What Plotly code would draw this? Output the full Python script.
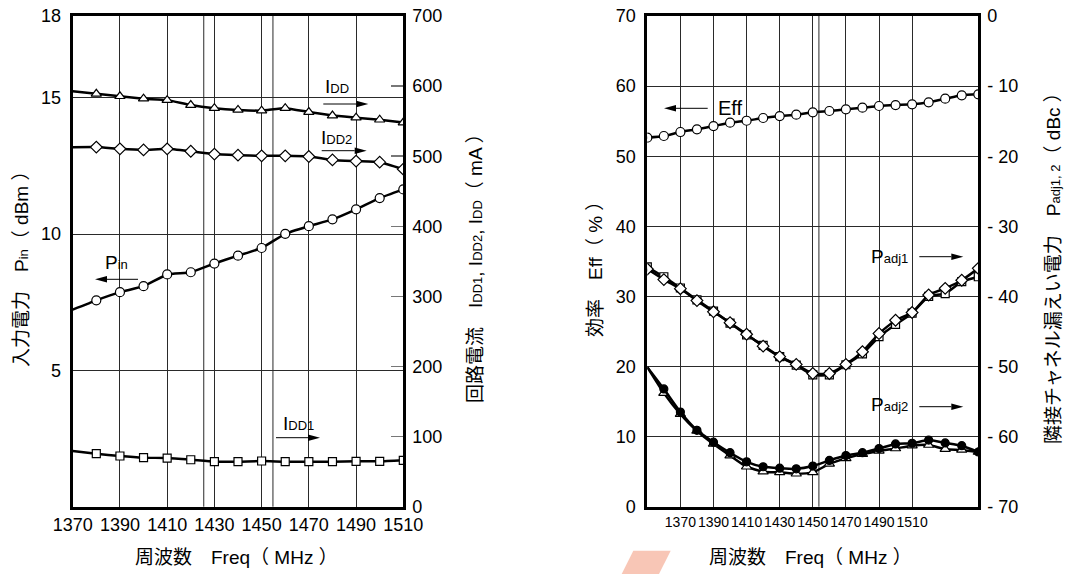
import plotly.graph_objects as go

# ---------------- data ----------------
freq_l = [1370, 1380, 1390, 1400, 1410, 1420, 1430, 1440, 1450, 1460, 1470, 1480, 1490, 1500, 1510]
pin = [7.23, 7.57, 7.87, 8.09, 8.52, 8.60, 8.92, 9.21, 9.49, 10.01, 10.29, 10.54, 10.91, 11.32, 11.64]
idd = [592.7, 589, 585.5, 582, 580, 573, 568.5, 566, 565, 568.5, 563, 558, 555, 552, 548]
idd2 = [512.8, 513, 510.5, 509, 510.5, 507, 503, 501.5, 500.5, 500.5, 499.5, 494.7, 493, 491.5, 481.5]
idd1 = [79.4, 75.6, 72.3, 69.9, 69.4, 67, 64.2, 64.2, 65.2, 64.2, 64.2, 64.2, 64.7, 64.7, 66.2]

freq_r = [1350, 1360, 1370, 1380, 1390, 1400, 1410, 1420, 1430, 1440, 1450,
          1460, 1470, 1480, 1490, 1500, 1510, 1520, 1530, 1540, 1550]
eff = [52.64, 52.88, 53.45, 53.84, 54.3, 54.78, 55.06, 55.45, 55.73, 55.92, 56.26,
       56.45, 56.69, 56.92, 57.16, 57.3, 57.4, 57.69, 58.2, 58.69, 58.83]
padj1_dia = [-36.1, -37.6, -38.9, -40.6, -42.2, -43.75, -45.4, -47.1, -48.6, -49.7, -51.0,
             -51.0, -49.7, -47.9, -45.3, -43.4, -42.3, -39.8, -38.85, -37.7, -36.0]
padj1_sq = [-35.8, -37.2, -38.8, -40.5, -42.1, -43.8, -45.5, -47.0, -48.6, -49.8, -51.2,
            -51.2, -49.75, -48.2, -45.75, -44.0, -42.4, -40.0, -39.6, -37.9, -37.2]
padj2_dot = [-50.1, -53.2, -56.5, -59.1, -60.8, -62.3, -63.6, -64.3, -64.5, -64.6, -64.2,
             -63.4, -62.7, -62.3, -61.7, -61.05, -60.95, -60.5, -60.9, -61.3, -62.2]
padj2_tri = [-50.1, -53.8, -56.8, -59.2, -61.05, -62.7, -64.3, -65.0, -65.1, -65.3, -65.1,
             -63.9, -63.1, -62.5, -62.05, -61.7, -61.3, -61.2, -61.8, -61.9, -62.2]

xticks_l = [1370, 1390, 1410, 1430, 1450, 1470, 1490, 1510]
xticks_r = [1370, 1390, 1410, 1430, 1450, 1470, 1490, 1510]
yticks_pin = [5, 10, 15, 18]
yticks_ma = [0, 100, 200, 300, 400, 500, 600, 700]
yticks_eff = [0, 10, 20, 30, 40, 50, 60, 70]
yticks_dbc = [0, -10, -20, -30, -40, -50, -60, -70]
yticktext_dbc = ["0", "- 10", "- 20", "- 30", "- 40", "- 50", "- 60", "- 70"]
extra_lines_l = [1425.5, 1454.8]
extra_lines_r = [1453.7]

# ---------------- layout helpers ----------------
W, H = 1066, 574
def px(x):
    return x / W
def py(y):
    return 1 - y / H

FONT = "Liberation Sans, Arial, sans-serif"
TFONT = "Liberation Sans, Arial, Noto Sans CJK JP, sans-serif"
GRID = "#2a2a2a"
LW = 2.5

def sm(s, size=13):
    return f'<span style="font-size:{size}px">{s}</span>'

def msizes(n, size, skip_first=False):
    return [0 if (skip_first and i == 0) else size for i in range(n)]

fig = go.Figure()

def add(x, y, xa, ya, symbol, size, fill="white", skip_first=False, smoothing=0.4):
    fig.add_trace(go.Scatter(x=x, y=y, xaxis=xa, yaxis=ya, mode="lines+markers",
                             line=dict(color="black", width=LW, shape="spline", smoothing=smoothing),
                             marker=dict(symbol=symbol, size=msizes(len(x), size, skip_first), color=fill,
                                         opacity=1, line=dict(color="black", width=1.2)),
                             hoverinfo="skip"))

# left chart
add(freq_l, pin, "x", "y", "circle", 9, skip_first=True)
add(freq_l, idd, "x", "y2", "triangle-up", 9, skip_first=True)
add(freq_l, idd2, "x", "y2", "diamond", 9, skip_first=True)
add(freq_l, idd1, "x", "y2", "square", 8, skip_first=True)

# right chart
add(freq_r, eff, "x2", "y3", "circle", 9, smoothing=0.5)
add(freq_r, padj1_sq, "x2", "y4", "square", 8, smoothing=0.5)
add(freq_r, padj1_dia, "x2", "y4", "diamond", 9, smoothing=0.5)
add(freq_r, padj2_tri, "x2", "y4", "triangle-up", 9, skip_first=True, smoothing=0.5)
add(freq_r, padj2_dot, "x2", "y4", "circle", 8, fill="black", skip_first=True, smoothing=0.5)

dom_xl = [px(72.7), px(403.3)]
dom_xr = [px(647.3), px(978.3)]
dom_y = [py(506.7), py(16)]

tickfont = dict(family=FONT, size=18, color="black")
common_x = dict(showgrid=True, gridcolor=GRID, gridwidth=1, showline=True, linecolor="black",
                linewidth=3, mirror=True, ticks="", zeroline=False, tickfont=tickfont,
                automargin=False, tickangle=0)
common_y = dict(showgrid=True, gridcolor=GRID, gridwidth=1, showline=True, linecolor="black",
                linewidth=3, mirror=True, ticks="", zeroline=False, tickfont=tickfont,
                ticklabelstandoff=5, automargin=False)

fig.update_layout(
    width=W, height=H, margin=dict(l=0, r=0, t=0, b=0, autoexpand=False),
    paper_bgcolor="white", plot_bgcolor="white", showlegend=False,
    xaxis=dict(domain=dom_xl, range=[1370, 1510], tickvals=xticks_l, anchor="y", **common_x),
    yaxis=dict(domain=dom_y, range=[0, 18], tickvals=yticks_pin, anchor="x", **common_y),
    yaxis2=dict(overlaying="y", side="right", anchor="x", range=[0, 700], tickvals=yticks_ma,
                showgrid=False, zeroline=False, showline=False, ticks="inside", ticklen=12,
                tickcolor="#777", tickwidth=1.5, tickfont=tickfont, ticklabelstandoff=8,
                automargin=False),
    xaxis2=dict(domain=dom_xr, range=[1350, 1550], tickvals=xticks_r, anchor="y3",
                **{**common_x, "tickfont": dict(family=FONT, size=14, color="black")}),
    yaxis3=dict(domain=dom_y, range=[0, 70], tickvals=yticks_eff, anchor="x2", **common_y),
    yaxis4=dict(overlaying="y3", side="right", anchor="x2", range=[-70, 0], tickvals=yticks_dbc,
                ticktext=yticktext_dbc, showgrid=False, zeroline=False, showline=False, ticks="",
                tickfont=tickfont, ticklabelstandoff=8, automargin=False),
)

shapes = []
for v in extra_lines_l:
    shapes.append(dict(type="line", xref="x", yref="y domain", x0=v, x1=v, y0=0, y1=1,
                       line=dict(color=GRID, width=1), layer="below"))
for v in extra_lines_r:
    shapes.append(dict(type="line", xref="x2", yref="y3 domain", x0=v, x1=v, y0=0, y1=1,
                       line=dict(color=GRID, width=1), layer="below"))
# salmon decorative parallelogram at bottom
shapes.append(dict(type="path", xref="paper", yref="paper",
                   path=f"M {px(633.3)},{py(550.7)} L {px(670.7)},{py(550.7)} L {px(659)},{py(574)} L {px(621.7)},{py(574)} Z",
                   fillcolor="#F8C6B6", line=dict(width=0)))

def arrow(x_tail, x_head, y, head_len=12, half_h=3.2):
    d = 1 if x_head > x_tail else -1
    base = x_head - d * head_len
    shapes.append(dict(type="line", xref="paper", yref="paper",
                       x0=px(x_tail), x1=px(base), y0=py(y), y1=py(y),
                       line=dict(color="black", width=1)))
    shapes.append(dict(type="path", xref="paper", yref="paper",
                       path=f"M {px(x_head)},{py(y)} L {px(base)},{py(y - half_h)} L {px(base)},{py(y + half_h)} Z",
                       fillcolor="black", line=dict(width=0)))

ann = []
def title(text, x, y, angle=0, size=19):
    ann.append(dict(text=text, x=px(x), y=py(y), xref="paper", yref="paper", showarrow=False,
                    textangle=angle, xanchor="center", yanchor="middle",
                    font=dict(family=TFONT, size=size, color="black")))

def label(text, x, y, size=19):
    ann.append(dict(text=text, x=px(x), y=py(y), xref="paper", yref="paper", showarrow=False,
                    xanchor="center", yanchor="middle", font=dict(family=FONT, size=size, color="black")))

title(f"入力電力　P{sm('in')}（ dBm ）", 21, 265, -90)
title(f"回路電流　I{sm('DD1')}, I{sm('DD2')}, I{sm('DD')}（ mA ）", 475, 264, -90)
title("周波数　Freq（ MHz ）", 236, 557, 0)
title("効率　Eff（ % ）", 595, 265, -90)
title(f"隣接チャネル漏えい電力　P{sm('adj1, 2')}（ dBc ）", 1053, 264, -90)
title("周波数　Freq（ MHz ）", 810, 557, 0)

label(f"I{sm('DD')}", 337, 86)
arrow(323.3, 368.3, 104)
label(f"I{sm('DD2')}", 336, 137)
arrow(321.7, 366.7, 150.7)
label(f"P{sm('in')}", 116, 262)
arrow(138, 95, 279.3)
label(f"I{sm('DD1')}", 298, 423)
arrow(276, 320, 437.7)

label("Eff", 730, 108, 20)
arrow(707.7, 664, 108.3)
label(f"P{sm('adj1')}", 889, 256)
arrow(919.3, 963.3, 256.7)
label(f"P{sm('adj2')}", 889, 404)
arrow(919.3, 963.3, 406.7)

fig.update_layout(annotations=ann, shapes=shapes)

fig.write_html("out.html", config={"displayModeBar": False, "staticPlot": True},
               post_script="document.body.style.margin='0';document.body.style.overflow='hidden';")
